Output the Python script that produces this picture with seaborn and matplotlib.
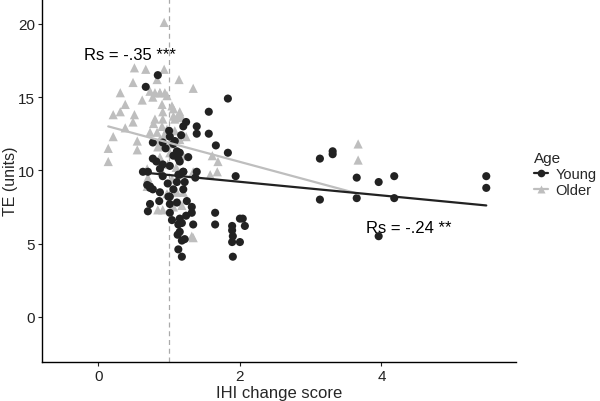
import numpy as np
import pandas as pd
import matplotlib
matplotlib.use('Agg')
import matplotlib.pyplot as plt
from matplotlib.lines import Line2D
import seaborn as sns

# Young group (black dots)
young_x = [0.84, 0.67, 1.83, 1.56, 1.39, 1.39, 1.56, 1.66, 1.83, 1.94,
           1.24, 1.20, 1.00, 1.01, 0.77, 1.06, 0.91, 0.77, 1.11, 1.15,
           1.06, 0.91, 1.15, 1.01, 0.87, 1.20, 1.13, 0.70, 0.73, 0.77,
           0.87, 1.01, 1.20, 1.25, 1.11, 0.73, 0.70, 1.01, 1.01, 1.32,
           1.32, 1.15, 1.13, 1.18, 1.34, 1.15, 1.22, 1.18, 1.13, 1.18,
           1.65, 1.65, 1.89, 1.89, 1.90, 2.00, 2.04, 2.07, 1.89, 2.00,
           1.90, 0.91, 1.15, 1.22, 1.06, 1.13, 1.20, 1.37, 1.39, 1.11,
           0.69, 0.73, 0.99, 0.63, 0.95, 1.08, 0.82, 1.17, 0.98, 1.27,
           1.04, 0.86, 1.12, 1.24,
           3.13, 3.31, 3.31, 3.65, 3.96, 4.18, 3.13, 3.65, 4.18, 5.48,
           5.48, 3.96]
young_y = [16.5, 15.7, 14.9, 14.0, 13.0, 12.5, 12.5, 11.7, 11.2, 9.6,
           13.3, 13.0, 12.7, 12.3, 11.9, 11.8, 11.9, 10.8, 11.3, 11.2,
           11.0, 10.4, 10.6, 10.3, 10.1, 9.9, 9.7, 9.9, 8.9, 8.7,
           8.5, 8.2, 8.7, 7.9, 7.8, 7.7, 7.2, 7.7, 7.1, 7.5,
           7.1, 6.7, 6.3, 6.4, 6.3, 5.8, 5.3, 5.2, 4.6, 4.1,
           7.1, 6.3, 6.2, 5.9, 5.5, 6.7, 6.7, 6.2, 5.1, 5.1,
           4.1, 9.6, 9.7, 9.2, 8.7, 10.8, 9.9, 9.5, 9.9, 9.2,
           9.0, 8.8, 8.2, 9.9, 11.5, 12.0, 10.6, 12.4, 9.1, 10.9,
           6.6, 7.9, 5.6, 6.9,
           10.8, 11.3, 11.1, 9.5, 9.2, 9.6, 8.0, 8.1, 8.1, 9.6,
           8.8, 5.5]

# Older group (grey triangles)
older_x = [0.93, 0.51, 0.67, 0.93, 0.83, 1.14, 0.49, 1.34, 0.31, 0.73,
           0.87, 0.97, 0.38, 0.31, 0.21, 0.51, 0.49, 0.38, 0.21, 0.55,
           0.14, 0.55, 0.14, 1.06, 0.80, 0.87, 0.94, 0.77, 0.90, 1.04,
           0.91, 1.15, 0.80, 0.91, 1.08, 1.18, 0.97, 1.08, 0.83, 0.87,
           1.15, 1.01, 1.06, 0.90, 0.73, 0.84, 1.01, 0.87, 1.20, 1.61,
           1.69, 0.69, 1.34, 1.68, 1.58, 0.70, 0.90, 1.04, 0.69, 1.11,
           1.20, 0.97, 0.84, 0.91, 1.06, 1.18, 1.34, 1.32, 1.13, 0.93,
           0.62, 0.78, 1.24, 0.98, 0.88, 1.10,
           3.67, 3.67]
older_y = [20.1, 17.0, 16.9, 16.9, 16.2, 16.2, 16.0, 15.6, 15.3, 15.4,
           15.3, 15.1, 14.5, 14.0, 13.8, 13.8, 13.3, 12.9, 12.3, 12.0,
           11.5, 11.4, 10.6, 14.2, 15.3, 15.3, 15.3, 15.0, 14.5, 14.4,
           14.0, 14.0, 13.5, 13.5, 13.5, 13.6, 12.8, 12.7, 12.6, 12.1,
           12.1, 11.8, 13.7, 13.0, 12.6, 11.6, 11.2, 10.9, 11.0, 11.0,
           10.6, 10.1, 9.9, 9.9, 9.7, 9.5, 9.9, 9.4, 8.9, 8.5,
           8.5, 8.4, 7.3, 7.3, 7.5, 7.6, 5.4, 5.5, 13.7, 12.4,
           14.8, 13.2, 12.3, 10.4, 11.7, 10.2,
           11.8, 10.7]

# fitted lines (end points)
fit_young_x = [0.63, 5.48]
fit_young_y = [9.85, 7.6]
fit_older_x = [0.14, 3.67]
fit_older_y = [13.0, 8.4]

groups = ['Young', 'Older']
colors = {'Young': '#222222', 'Older': '#BEBEBE'}
markers = {'Young': 'o', 'Older': '^'}
sizes = {'Young': 34, 'Older': 44}

df = pd.DataFrame({
    'IHI': young_x + older_x,
    'TE': young_y + older_y,
    'Age': ['Young'] * len(young_x) + ['Older'] * len(older_x),
})
fits = pd.DataFrame({
    'IHI': fit_young_x + fit_older_x,
    'TE': fit_young_y + fit_older_y,
    'Age': ['Young'] * 2 + ['Older'] * 2,
})

sns.set_theme(style='ticks')
plt.rcParams['font.family'] = ['Liberation Sans', 'DejaVu Sans']

fig = plt.figure(figsize=(6, 4.02), dpi=100)
ax = fig.add_axes([0.0695, 0.0978, 0.7905, 0.9022])

# older first so the young dots sit on top
for g in ['Older', 'Young']:
    sub = df[df['Age'] == g]
    sns.scatterplot(data=sub, x='IHI', y='TE', color=colors[g], marker=markers[g],
                    s=sizes[g], edgecolor='none', ax=ax, legend=False,
                    zorder=3 if g == 'Young' else 2)
for g in ['Older', 'Young']:
    sns.lineplot(data=fits[fits['Age'] == g], x='IHI', y='TE', color=colors[g],
                 linewidth=1.6, ax=ax, legend=False, zorder=4)

ax.axvline(1, color='#AAAAAA', linestyle=(0, (4, 3)), linewidth=0.9, zorder=1)

ax.text(0.45, 17.9, 'Rs = -.35 ***', fontsize=12, ha='center', va='center', color='black')
ax.text(4.39, 6.1, 'Rs = -.24 **', fontsize=12, ha='center', va='center', color='black')

ax.set_xlim(-0.8, 5.9)
ax.set_ylim(-3.07, 21.7)
ax.set_xticks([0, 2, 4])
ax.set_yticks([0, 5, 10, 15, 20])
ax.set_xlabel('IHI change score', fontsize=12, labelpad=2)
ax.set_ylabel('TE (units)', fontsize=11.5)
ax.yaxis.set_label_coords(-0.05, 0.5)
ax.tick_params(labelsize=11, colors='#222222', length=3, width=0.8, pad=2)
for side in ['top', 'right']:
    ax.spines[side].set_visible(False)
for side in ['left', 'bottom']:
    ax.spines[side].set_linewidth(1.0)
    ax.spines[side].set_color('black')

handles = [Line2D([0], [0], color=colors[g], marker=markers[g], markersize=5.5,
                  markeredgecolor='none', linewidth=1.6) for g in groups]
leg = fig.legend(handles, groups, title='Age', loc='center left',
                 bbox_to_anchor=(0.875, 0.565), frameon=False, fontsize=10.5,
                 title_fontsize=11, handlelength=1.0, handletextpad=0.5,
                 labelspacing=0.15, alignment='left', borderaxespad=0.2)

fig.savefig('out.png', dpi=100)
